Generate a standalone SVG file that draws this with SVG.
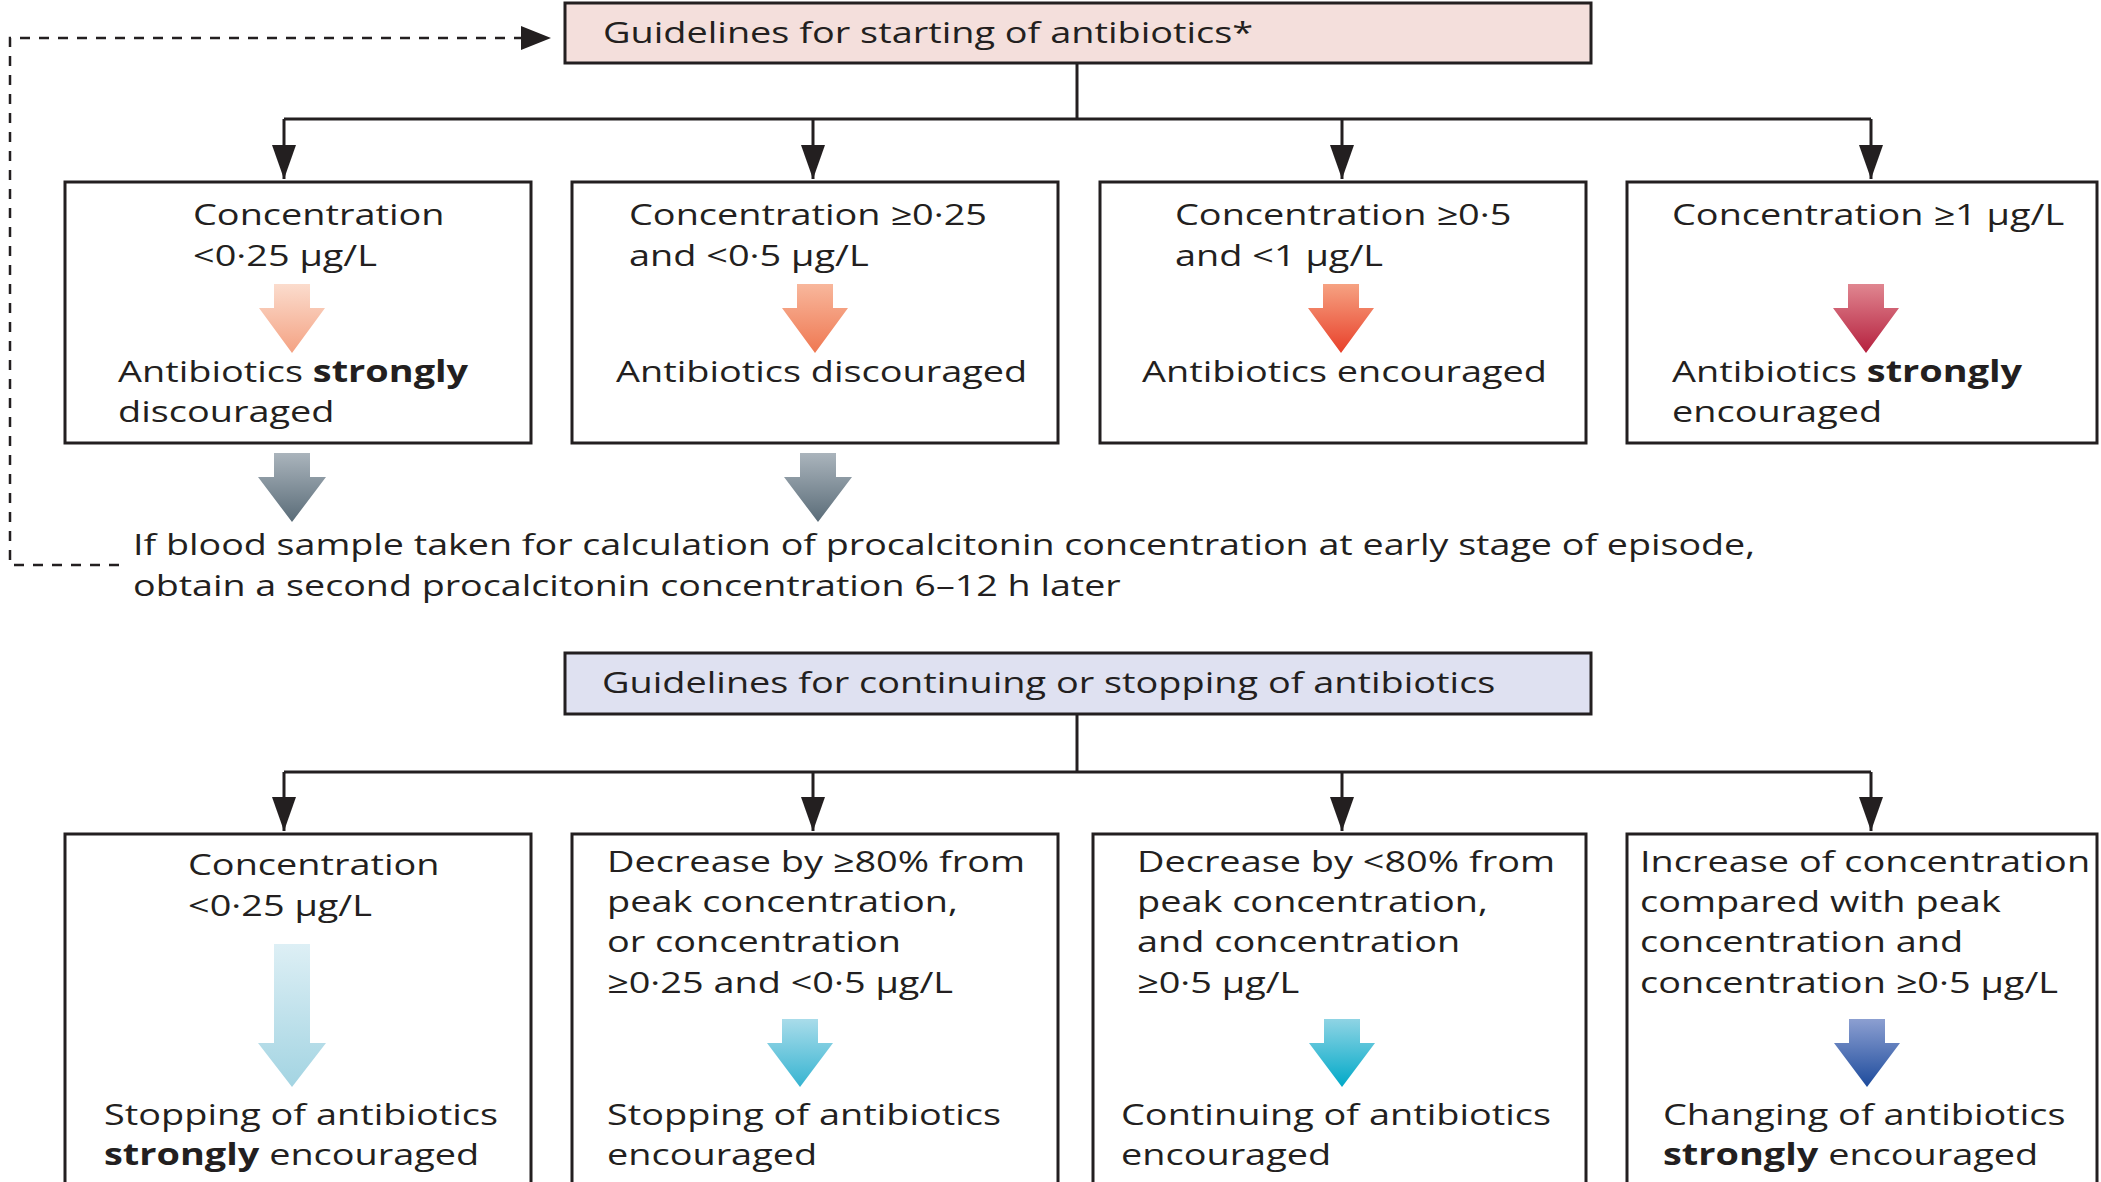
<svg xmlns="http://www.w3.org/2000/svg" width="2101" height="1182" viewBox="0 0 2101 1182">
<style>
text{font-family:"Open Sans","Noto Sans","Liberation Sans",sans-serif;font-size:30px;fill:#231f20}
.b{font-weight:bold}
.box{fill:#fff;stroke:#231f20;stroke-width:3}
.hdr1{fill:#f4dfdc;stroke:#231f20;stroke-width:3}
.hdr2{fill:#dfe1f1;stroke:#231f20;stroke-width:3}
.con{fill:none;stroke:#231f20;stroke-width:3}
.dash{fill:none;stroke:#231f20;stroke-width:2.5;stroke-dasharray:10 9}
</style>
<defs>
<marker id="ah" markerUnits="userSpaceOnUse" markerWidth="34" markerHeight="24" refX="34" refY="12" orient="auto"><path d="M0,0 L34,12 L0,24 Z" fill="#231f20"/></marker>
<marker id="ahd" markerUnits="userSpaceOnUse" markerWidth="30" markerHeight="24" refX="30" refY="12" orient="auto"><path d="M0,0 L30,12 L0,24 Z" fill="#231f20"/></marker>
<linearGradient id="g1" x1="0" y1="0" x2="0" y2="1"><stop offset="0" stop-color="#fbdccd"/><stop offset="1" stop-color="#f4a283"/></linearGradient>
<linearGradient id="g2" x1="0" y1="0" x2="0" y2="1"><stop offset="0" stop-color="#f8b79c"/><stop offset="1" stop-color="#ef7852"/></linearGradient>
<linearGradient id="g3" x1="0" y1="0" x2="0" y2="1"><stop offset="0" stop-color="#f6a282"/><stop offset="1" stop-color="#e8402a"/></linearGradient>
<linearGradient id="g4" x1="0" y1="0" x2="0" y2="1"><stop offset="0" stop-color="#e08690"/><stop offset="1" stop-color="#b5203e"/></linearGradient>
<linearGradient id="gg" x1="0" y1="0" x2="0" y2="1"><stop offset="0" stop-color="#aab4bc"/><stop offset="1" stop-color="#5a6c78"/></linearGradient>
<linearGradient id="b1" x1="0" y1="0" x2="0" y2="1"><stop offset="0" stop-color="#ddeff5"/><stop offset="1" stop-color="#a3d4e2"/></linearGradient>
<linearGradient id="b2" x1="0" y1="0" x2="0" y2="1"><stop offset="0" stop-color="#a9dcea"/><stop offset="1" stop-color="#36b4d1"/></linearGradient>
<linearGradient id="b3" x1="0" y1="0" x2="0" y2="1"><stop offset="0" stop-color="#8fd4e4"/><stop offset="1" stop-color="#00a9c8"/></linearGradient>
<linearGradient id="b4" x1="0" y1="0" x2="0" y2="1"><stop offset="0" stop-color="#8c9fd1"/><stop offset="1" stop-color="#1d4b9c"/></linearGradient>
</defs>

<g id="connectors">
<path class="con" d="M1077,63 V119"/>
<path class="con" d="M284,119 H1871"/>
<path class="con" d="M284,119 V179" marker-end="url(#ah)"/>
<path class="con" d="M813,119 V179" marker-end="url(#ah)"/>
<path class="con" d="M1342,119 V179" marker-end="url(#ah)"/>
<path class="con" d="M1871,119 V179" marker-end="url(#ah)"/>
<path class="con" d="M1077,714 V772"/>
<path class="con" d="M284,772 H1871"/>
<path class="con" d="M284,772 V831" marker-end="url(#ah)"/>
<path class="con" d="M813,772 V831" marker-end="url(#ah)"/>
<path class="con" d="M1342,772 V831" marker-end="url(#ah)"/>
<path class="con" d="M1871,772 V831" marker-end="url(#ah)"/>
<path class="dash" d="M119,565 H10 V38 H551" marker-end="url(#ahd)"/>
<path d="M292,453 H310 V477 H326 L292,522 L258,477 H274 V453 Z" fill="url(#gg)"/>
<path d="M818,453 H836 V477 H852 L818,522 L784,477 H800 V453 Z" fill="url(#gg)"/>
</g>

<g id="start-header">
<rect class="hdr1" x="565" y="3" width="1026" height="60"/>
<text transform="matrix(1.263 0 0 1 603 43)">Guidelines for starting of antibiotics*</text>
</g>

<g id="s1">
<rect class="box" x="65" y="182" width="466" height="261"/>
<text transform="matrix(1.263 0 0 1 193 225)">Concentration</text>
<text transform="matrix(1.263 0 0 1 193 266)">&lt;0·25 µg/L</text>
<path d="M292,284 H310 V308 H325 L292,353 L259,308 H274 V284 Z" fill="url(#g1)"/>
<text transform="matrix(1.263 0 0 1 118 382)">Antibiotics <tspan class="b">strongly</tspan></text>
<text transform="matrix(1.263 0 0 1 118 422)">discouraged</text>
</g>

<g id="s2">
<rect class="box" x="572" y="182" width="486" height="261"/>
<text transform="matrix(1.263 0 0 1 629 225)">Concentration ≥0·25</text>
<text transform="matrix(1.263 0 0 1 629 266)">and &lt;0·5 µg/L</text>
<path d="M815,284 H833 V308 H848 L815,353 L782,308 H797 V284 Z" fill="url(#g2)"/>
<text transform="matrix(1.263 0 0 1 616 382)">Antibiotics discouraged</text>
</g>

<g id="s3">
<rect class="box" x="1100" y="182" width="486" height="261"/>
<text transform="matrix(1.263 0 0 1 1175 225)">Concentration ≥0·5</text>
<text transform="matrix(1.263 0 0 1 1175 266)">and &lt;1 µg/L</text>
<path d="M1341,284 H1359 V308 H1374 L1341,353 L1308,308 H1323 V284 Z" fill="url(#g3)"/>
<text transform="matrix(1.263 0 0 1 1142 382)">Antibiotics encouraged</text>
</g>

<g id="s4">
<rect class="box" x="1627" y="182" width="470" height="261"/>
<text transform="matrix(1.263 0 0 1 1672 225)">Concentration ≥1 µg/L</text>
<path d="M1866,284 H1884 V308 H1899 L1866,353 L1833,308 H1848 V284 Z" fill="url(#g4)"/>
<text transform="matrix(1.263 0 0 1 1672 382)">Antibiotics <tspan class="b">strongly</tspan></text>
<text transform="matrix(1.263 0 0 1 1672 422)">encouraged</text>
</g>

<g id="note">
<text transform="matrix(1.255 0 0 1 133 555)">If blood sample taken for calculation of procalcitonin concentration at early stage of episode,</text>
<text transform="matrix(1.255 0 0 1 133 596)">obtain a second procalcitonin concentration 6–12 h later</text>
</g>

<g id="continue-header">
<rect class="hdr2" x="565" y="653" width="1026" height="61"/>
<text transform="matrix(1.263 0 0 1 602 693)">Guidelines for continuing or stopping of antibiotics</text>
</g>

<g id="c1">
<rect class="box" x="65" y="834" width="466" height="360"/>
<text transform="matrix(1.263 0 0 1 188 875)">Concentration</text>
<text transform="matrix(1.263 0 0 1 188 916)">&lt;0·25 µg/L</text>
<path d="M292,944 H310 V1043 H326 L292,1087 L258,1043 H274 V944 Z" fill="url(#b1)"/>
<text transform="matrix(1.263 0 0 1 104 1125)">Stopping of antibiotics</text>
<text transform="matrix(1.263 0 0 1 104 1165)"><tspan class="b">strongly</tspan> encouraged</text>
</g>

<g id="c2">
<rect class="box" x="572" y="834" width="486" height="360"/>
<text transform="matrix(1.263 0 0 1 607 872)">Decrease by ≥80% from</text>
<text transform="matrix(1.263 0 0 1 607 912)">peak concentration,</text>
<text transform="matrix(1.263 0 0 1 607 952)">or concentration</text>
<text transform="matrix(1.263 0 0 1 607 993)">≥0·25 and &lt;0·5 µg/L</text>
<path d="M800,1019 H818 V1043 H833 L800,1087 L767,1043 H782 V1019 Z" fill="url(#b2)"/>
<text transform="matrix(1.263 0 0 1 607 1125)">Stopping of antibiotics</text>
<text transform="matrix(1.263 0 0 1 607 1165)">encouraged</text>
</g>

<g id="c3">
<rect class="box" x="1093" y="834" width="493" height="360"/>
<text transform="matrix(1.263 0 0 1 1137 872)">Decrease by &lt;80% from</text>
<text transform="matrix(1.263 0 0 1 1137 912)">peak concentration,</text>
<text transform="matrix(1.263 0 0 1 1137 952)">and concentration</text>
<text transform="matrix(1.263 0 0 1 1137 993)">≥0·5 µg/L</text>
<path d="M1342,1019 H1360 V1043 H1375 L1342,1087 L1309,1043 H1324 V1019 Z" fill="url(#b3)"/>
<text transform="matrix(1.263 0 0 1 1121 1125)">Continuing of antibiotics</text>
<text transform="matrix(1.263 0 0 1 1121 1165)">encouraged</text>
</g>

<g id="c4">
<rect class="box" x="1627" y="834" width="470" height="360"/>
<text transform="matrix(1.263 0 0 1 1640 872)">Increase of concentration</text>
<text transform="matrix(1.263 0 0 1 1640 912)">compared with peak</text>
<text transform="matrix(1.263 0 0 1 1640 952)">concentration and</text>
<text transform="matrix(1.263 0 0 1 1640 993)">concentration ≥0·5 µg/L</text>
<path d="M1867,1019 H1885 V1043 H1900 L1867,1087 L1834,1043 H1849 V1019 Z" fill="url(#b4)"/>
<text transform="matrix(1.263 0 0 1 1663 1125)">Changing of antibiotics</text>
<text transform="matrix(1.263 0 0 1 1663 1165)"><tspan class="b">strongly</tspan> encouraged</text>
</g>
</svg>
